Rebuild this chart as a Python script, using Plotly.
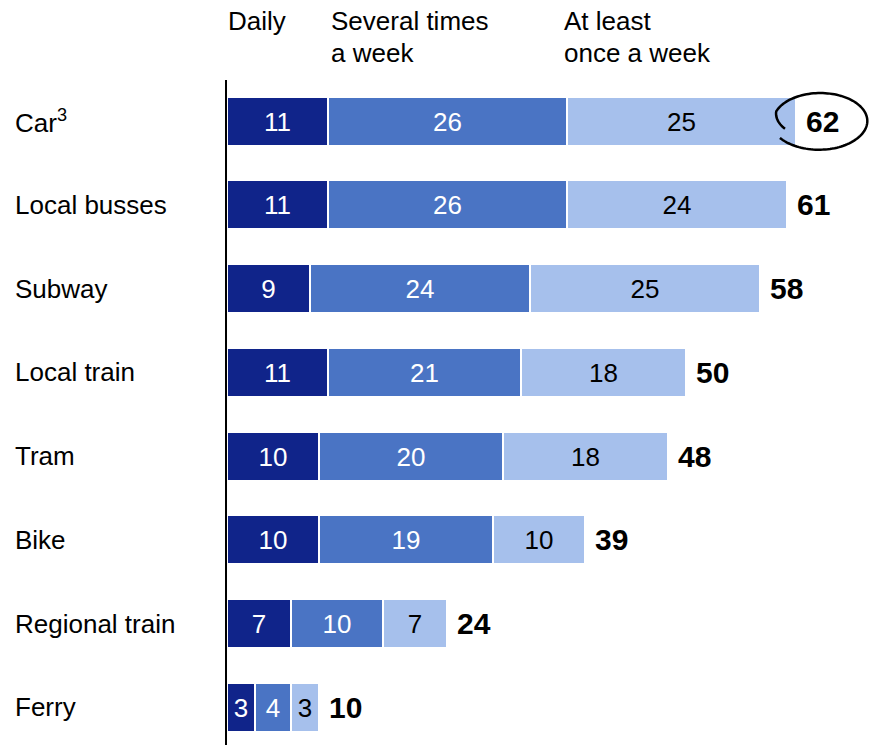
import numpy as np
import plotly.graph_objects as go

categories = ["Car<sup>3</sup>", "Local busses", "Subway", "Local train", "Tram", "Bike", "Regional train", "Ferry"]
daily = [11, 11, 9, 11, 10, 10, 7, 3]
several = [26, 26, 24, 21, 20, 19, 10, 4]
weekly = [25, 24, 25, 18, 18, 10, 7, 3]
totals = [62, 61, 58, 50, 48, 39, 24, 10]
series_names = ["Daily", "Several times<br>a week", "At least<br>once a week"]
header_lines = [["Daily"], ["Several times", "a week"], ["At least", "once a week"]]

colors = ["#10248A", "#4A74C4", "#A6C0EC"]
text_colors = ["white", "white", "black"]
FONT = "Liberation Sans, Arial, sans-serif"
FS = 26

W, H = 869, 745
ML, MT = 227, 80
XMAX = 69.9
YTOP, YBOT = -0.49, 7.45
ypos = list(range(len(categories)))

fig = go.Figure()
for vals, name, col, tcol in zip([daily, several, weekly], series_names, colors, text_colors):
    fig.add_trace(go.Bar(
        y=ypos, x=vals, orientation="h", name=name,
        marker=dict(color=col, line=dict(color="white", width=2)),
        width=0.585,
        text=[str(v) for v in vals], textposition="inside",
        insidetextanchor="middle", textangle=0,
        textfont=dict(color=tcol, size=FS, family=FONT),
        constraintext="none",
        hoverinfo="skip",
    ))

annotations = []
# category labels
for i, c in enumerate(categories):
    annotations.append(dict(
        xref="paper", yref="y", x=-(ML - 13) / (W - ML), y=i,
        text=c, showarrow=False, xanchor="left", yanchor="middle",
        font=dict(size=FS, color="black", family=FONT)))
# totals
for i, t in enumerate(totals):
    annotations.append(dict(
        xref="x", yref="y", x=t, y=i, text="<b>%d</b>" % t, showarrow=False,
        xanchor="left", yanchor="middle", xshift=8,
        font=dict(size=30, color="black", family=FONT)))
# headers aligned with starts of car segments
starts = [0, daily[0], daily[0] + several[0]]
shifts = [-1, 1, -5]
plot_h = H - MT
for s, sh, lines in zip(starts, shifts, header_lines):
    for k, ln in enumerate(lines):
        py = 21 + 32 * k
        annotations.append(dict(
            xref="x", yref="paper", x=s, y=1 + (MT - py) / plot_h,
            text=ln, showarrow=False, xanchor="left", yanchor="middle",
            xshift=sh, font=dict(size=FS, color="black", family=FONT)))

# hand-drawn style loop around car total
cx = totals[0] + 2.6
cy = 0.0
rx = 47 / ((W - ML) / XMAX)
ry = 28 / (plot_h / (YBOT - YTOP))
ts = np.linspace(np.deg2rad(160), np.deg2rad(505), 120)
pts = []
for t in ts:
    frac = min(1.0, (np.rad2deg(t) - 160) / 40)
    r = 0.8 + 0.2 * frac + 0.05 * max(0, (np.rad2deg(t) - 400) / 105)
    pts.append((cx + rx * r * np.cos(t), cy + ry * r * np.sin(t)))
path = "M " + " L ".join("%.4f,%.4f" % p for p in pts)

fig.update_layout(
    barmode="stack",
    width=W, height=H,
    margin=dict(l=ML, r=0, t=MT, b=0),
    paper_bgcolor="white", plot_bgcolor="white",
    showlegend=False,
    bargap=0,
    xaxis=dict(range=[0, XMAX], visible=False, fixedrange=True),
    yaxis=dict(range=[YBOT, YTOP], showticklabels=False, showgrid=False,
               zeroline=False, showline=True, linecolor="black", linewidth=1.5,
               ticks=""),
    annotations=annotations,
    shapes=[dict(type="path", xref="x", yref="y", path=path,
                 line=dict(color="black", width=2.5))],
    font=dict(family=FONT),
)

fig.write_html("out.html")
